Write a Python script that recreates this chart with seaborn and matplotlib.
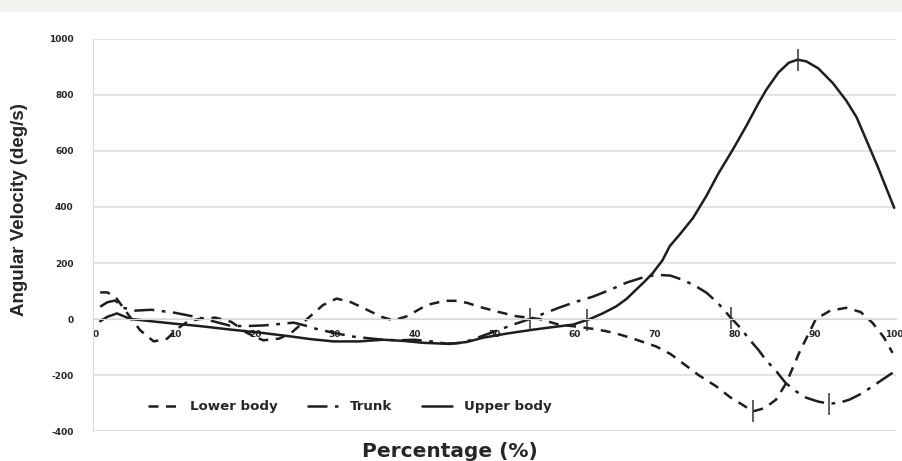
import numpy as np
import pandas as pd
import matplotlib
matplotlib.use("Agg")
import matplotlib.pyplot as plt
import seaborn as sns

# values (percentage of motion, deg/s)
lower_pct = [0.6, 1.5, 2.6, 3.5, 4.4, 5.6, 7.3, 9, 10.1, 11.5, 13, 15, 17, 19, 21,
             23, 24.5, 26.5, 28.5, 30.2, 32, 34, 35.8, 37.3, 39, 41.5, 43.7, 45,
             46.5, 48, 50.5, 52.7, 55.6, 58, 60.5, 63, 65, 67, 70.2, 72, 73.5, 75.5,
             77.7, 79.5, 81, 82.3, 83.8, 85.2, 86.5, 88.1, 90.2, 92, 94, 95.8, 97.3,
             98.7, 99.8]
lower_vel = [95, 95, 75, 40, 5, -40, -80, -70, -38, -10, 0, 5, -10, -50, -76,
             -70, -50, 0, 50, 73, 60, 33, 8, -5, 10, 50, 65, 65,
             58, 44, 25, 10, 0, -20, -28, -38, -50, -67, -98, -125, -157, -200,
             -240, -280, -306, -330, -318, -288, -228, -121, 0, 30, 40, 25, -14,
             -65, -121]

trunk_pct = [0.6, 1.5, 2.5, 3.5, 5, 7, 10, 13, 15, 17, 19, 21, 23, 24.8, 26.5, 28,
             30, 32, 34, 36, 38, 40, 42, 44, 46, 48, 50.6, 52.5, 54.4, 56, 58, 60,
             62.3, 64.5, 66.5, 68.5, 70.2, 72, 73.5, 75, 76.5, 78, 79.4, 80.7, 81.9,
             83, 83.9, 85.2, 86.4, 87.7, 89, 90.5, 91.9, 93, 94.4, 96, 97.3, 98.6,
             99.8]
trunk_vel = [44, 60, 66, 40, 30, 33, 22, 5, -10, -25, -25, -23, -18, -13, -25, -38,
             -50, -62, -68, -74, -76, -74, -80, -88, -85, -65, -38, -18, 0, 18, 40, 60,
             80, 105, 130, 148, 158, 155, 140, 120, 94, 55, 9, -30, -74,
             -110, -145, -185, -228, -258, -281, -295, -302, -300, -288, -265, -240, -215,
             -192]

upper_pct = [0.6, 1.5, 2.7, 4.4, 7, 10, 13, 17, 21, 24.4, 27, 29.8, 33, 36, 38.5, 41,
             44.4, 46.5, 48.5, 51.5, 54.8, 57.5, 59.8, 61.9, 63.5, 65.2, 66.5, 67.7,
             68.8, 69.8, 71, 71.9, 73.1, 74.8, 76.5, 78, 79.8, 81.5, 83, 84, 85.5,
             86.8, 87.9, 89, 90.5, 92.3, 94, 95.3, 96.5, 98, 100]
upper_vel = [-8, 8, 20, 0, -8, -17, -25, -38, -50, -62, -72, -80, -80, -74, -78, -85,
             -89, -82, -67, -52, -38, -28, -20, 0, 20, 45, 72, 105,
             135, 165, 210, 260, 300, 360, 440, 520, 605, 690, 770, 819, 880,
             915, 926, 920, 895, 843, 780, 720, 640, 540, 397]

# event ticks (percentage)
lower_events = [82.3]
trunk_events = [54.4, 79.6, 91.9]
upper_events = [61.6, 87.9]

series_names = ["Lower body", "Trunk", "Upper body"]
x_ticks = [0, 10, 20, 30, 40, 50, 60, 70, 80, 90, 100]
y_ticks = [-400, -200, 0, 200, 400, 600, 800, 1000]

df = pd.concat([
    pd.DataFrame({"pct": lower_pct, "vel": lower_vel, "seg": "Lower body"}),
    pd.DataFrame({"pct": trunk_pct, "vel": trunk_vel, "seg": "Trunk"}),
    pd.DataFrame({"pct": upper_pct, "vel": upper_vel, "seg": "Upper body"}),
], ignore_index=True)

sns.set_style("white")
plt.rcParams['font.family'] = ['DejaVu Sans']
plt.rcParams['axes.unicode_minus'] = False

fig = plt.figure(figsize=(9.03, 4.61), dpi=100)
fig.patch.set_facecolor("white")
fig.add_artist(plt.Rectangle((0, 1 - 11 / 461), 1, 11 / 461, transform=fig.transFigure,
                             color="#f2f2ee", zorder=0))
ax = fig.add_axes([0.103, 0.065, 0.889, 0.8505])

line_col = "#1e1e1e"
sns.lineplot(data=df, x="pct", y="vel", hue="seg", style="seg",
             hue_order=series_names, style_order=series_names,
             palette=[line_col] * 3,
             dashes={"Lower body": (4, 3), "Trunk": (8, 3, 1.5, 3), "Upper body": ""},
             linewidth=1.8, sort=False, estimator=None, ax=ax)

for pct, vel, ev in [(lower_pct, lower_vel, lower_events),
                     (trunk_pct, trunk_vel, trunk_events),
                     (upper_pct, upper_vel, upper_events)]:
    ax.plot(ev, np.interp(ev, pct, vel), linestyle="none", marker="|",
            markersize=16, markeredgewidth=1.1, color="#333333")

ax.set_xlim(-0.3, 100.2)
ax.set_ylim(-400, 1000)
ax.set_yticks(y_ticks)
ax.set_xticks(x_ticks)
ax.grid(axis="y", color="#dedede", linewidth=1.2)
ax.grid(axis="x", visible=False)
for s in ["top", "right"]:
    ax.spines[s].set_visible(False)
ax.spines["left"].set_color("#d8d8d8")
ax.spines["bottom"].set_position(("data", 0))
ax.spines["bottom"].set_color("#d8d8d8")
ax.tick_params(axis="x", length=3, color="#d8d8d8", pad=5, labelsize=6.5)
ax.tick_params(axis="y", length=0, pad=14, labelsize=6.5)
for lab in ax.get_xticklabels() + ax.get_yticklabels():
    lab.set_fontweight("bold")

ax.set_xlabel("")
ax.set_ylabel("")
fig.text(0.498, 0.02, "Percentage (%)", ha="center", va="center",
         fontsize=14.5, fontweight="bold")
fig.text(0.022, 0.545, "Angular Velocity (deg/s)", rotation=90, ha="center",
         va="center", fontsize=13.5, fontweight="bold",
         family=["Liberation Sans Narrow", "Liberation Sans", "DejaVu Sans"])

leg = ax.legend(loc="center left", bbox_to_anchor=(0.053, 0.062), ncol=3,
                frameon=False, handlelength=2.3, handletextpad=0.9,
                columnspacing=2.2,
                prop={"weight": "bold", "size": 9.6})

fig.savefig("out.png", dpi=100)
